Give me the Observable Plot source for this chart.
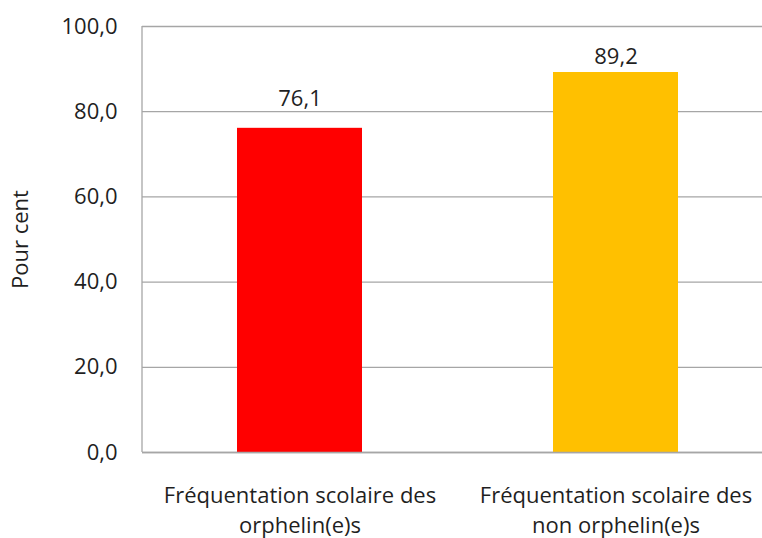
<!DOCTYPE html>
<html><head><meta charset="utf-8">
<script src="https://cdn.jsdelivr.net/npm/d3@7"></script>
<script src="https://cdn.jsdelivr.net/npm/@observablehq/plot@0.6"></script>
<style>body{margin:0;background:#fff}</style>
</head><body><div id="chart"></div>
<script>
const categories = ["Fréquentation scolaire des\norphelin(e)s", "Fréquentation scolaire des\nnon orphelin(e)s"];
const values = [76.1, 89.2];
const colors = ["#FF0000", "#FFC000"];
const yTicks = [0, 20, 40, 60, 80, 100];

const data = categories.map((c, i) => ({cat: c, value: values[i], color: colors[i], i}));
const fmt = v => v.toFixed(1).replace(".", ",");
const FS = 22;
const TXT = "#1f1f1f";

const chart = Plot.plot({
  width: 762, height: 538,
  marginLeft: 142, marginRight: 0, marginTop: 26, marginBottom: 86,
  style: {fontFamily: "'Open Sans', sans-serif", fontSize: FS + "px", color: TXT, background: "#fff"},
  x: {domain: categories, range: [141, 774], paddingInner: 0.605, paddingOuter: 0.3025, label: null, tickSize: 0},
  y: {domain: [0, 100], ticks: yTicks, tickFormat: fmt, label: null, tickSize: 0},
  marks: [
    Plot.gridY(yTicks, {stroke: "#a6a6a6", strokeOpacity: 1, strokeWidth: 1.3}),
    Plot.barY(data, {x: "cat", y: "value", fill: "color"}),
    Plot.text(data, {filter: d => d.i === 0, x: "cat", y: "value", text: d => fmt(d.value), lineAnchor: "bottom", dy: -22, fontSize: FS, fill: TXT}),
    Plot.text(data, {filter: d => d.i === 1, x: "cat", y: "value", text: d => fmt(d.value), lineAnchor: "bottom", dy: -9, fontSize: FS, fill: TXT}),
    Plot.axisY({ticks: yTicks, tickFormat: fmt, tickSize: 0, tickPadding: 25, fontSize: FS, fill: TXT, label: null}),
    Plot.axisX({tickSize: 0, tickPadding: 29, fontSize: FS, fill: TXT, label: null, lineHeight: 1.36}),
    Plot.ruleY([0], {stroke: "#a6a6a6", strokeWidth: 1.3}),
    Plot.text(["Pour cent"], {frameAnchor: "left", textAnchor: "middle", rotate: -90, dx: -122, fontSize: FS, fill: TXT})
  ]
});
document.getElementById("chart").appendChild(chart);
const svg = d3.select(chart);
svg.append("line").attr("x1", 142).attr("x2", 142).attr("y1", 26).attr("y2", 452).attr("stroke", "#a6a6a6").attr("stroke-width", 1.3);
</script></body></html>
